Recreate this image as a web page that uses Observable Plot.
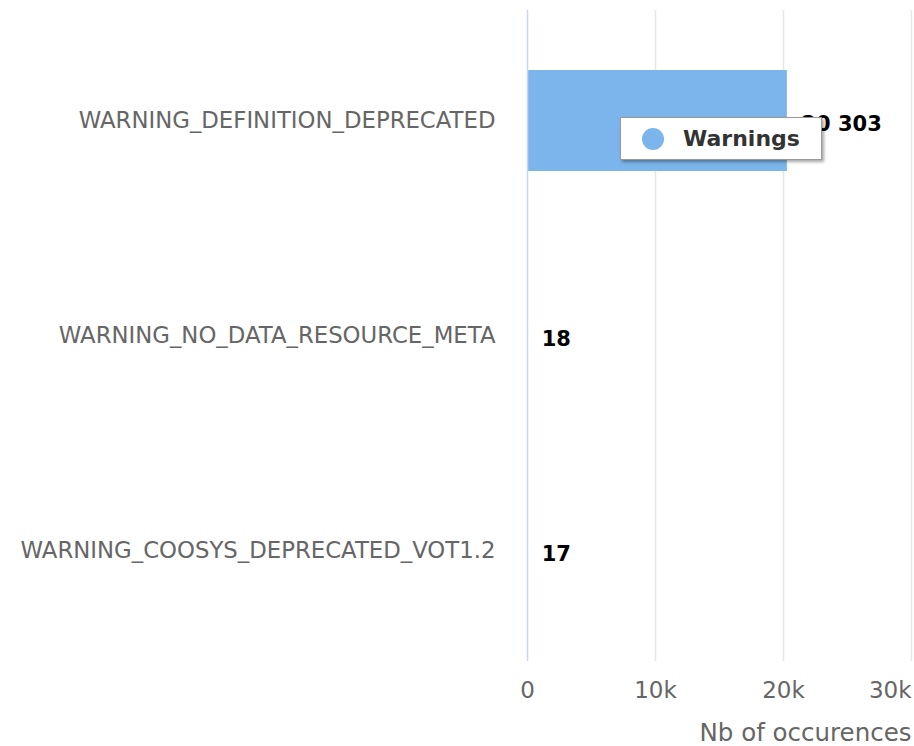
<!DOCTYPE html>
<html>
<head>
<meta charset="utf-8">
<script src="https://cdn.jsdelivr.net/npm/d3@7"></script>
<script src="https://cdn.jsdelivr.net/npm/@observablehq/plot@0.6"></script>
<style>
  html, body { margin: 0; padding: 0; background: #fff; }
  #wrap { position: relative; width: 914px; height: 746px; font-family: "DejaVu Sans", sans-serif; }
  #legend {
    position: absolute; left: 620px; top: 117px; width: 202px; height: 43px;
    background: #fff; border: 1px solid #999; box-sizing: border-box;
    box-shadow: 2px 2px 3px rgba(0,0,0,0.35);
    display: flex; align-items: center;
  }
  #legend .dot { width: 22px; height: 22px; border-radius: 50%; background: #7cb5ec; margin-left: 21px; flex: none; }
  #legend .lbl { margin-left: 19px; font-weight: bold; font-size: 22px; color: #333; white-space: nowrap; }
</style>
</head>
<body>
<div id="wrap"><div id="chart"></div><div id="legend"><div class="dot"></div><div class="lbl">Warnings</div></div></div>
<script>
const categories = ["WARNING_DEFINITION_DEPRECATED", "WARNING_NO_DATA_RESOURCE_META", "WARNING_COOSYS_DEPRECATED_VOT1.2"];
const counts = [20303, 18, 17];
const seriesName = "Warnings";
const xTicks = [0, 10000, 20000, 30000];
const xTickLabels = ["0", "10k", "20k", "30k"];
const xTitle = "Nb of occurences";

const data = categories.map((c, i) => ({category: c, value: counts[i]}));
const tickData = xTicks.map((t, i) => ({t, label: xTickLabels[i]}));
const fmt = v => d3.format(",")(v).replace(/,/g, " ");

const chart = Plot.plot({
  width: 914,
  height: 746,
  marginLeft: 527,
  marginRight: 3,
  marginTop: 13,
  marginBottom: 88,
  style: {fontFamily: "DejaVu Sans, sans-serif", background: "#fff"},
  x: {domain: [0, 30000], axis: null},
  y: {domain: categories, paddingInner: 0.53, paddingOuter: 0.265, axis: null},
  marks: [
    Plot.ruleX(xTicks.filter(t => t > 0), {stroke: "#e6e6e6", strokeWidth: 1.5, insetTop: -3, insetBottom: -3}),
    Plot.barX(data, {y: "category", x: "value", fill: "#7cb5ec"}),
    Plot.ruleX([0], {stroke: "#ccd6eb", strokeWidth: 1.5, insetTop: -3, insetBottom: -3}),
    Plot.axisY({tickSize: 0, tickPadding: 32, fontSize: 22.8, fill: "#666", label: null}),
    Plot.text(data, {y: "category", x: "value", text: d => fmt(d.value), textAnchor: "start", dx: 14, dy: 3,
      fontSize: 21, fontWeight: "bold", fill: "#000", stroke: "#fff", strokeWidth: 1, paintOrder: "stroke"}),
    Plot.text(tickData.filter(d => d.t < 30000), {x: "t", text: "label", frameAnchor: "bottom", dy: 39, fontSize: 23, fill: "#666"}),
    Plot.text(tickData.filter(d => d.t === 30000), {x: "t", text: "label", frameAnchor: "bottom", textAnchor: "end", dy: 39, fontSize: 23, fill: "#666"}),
    Plot.text([xTitle], {frameAnchor: "bottom-right", dy: 82, fontSize: 24.5, fill: "#666"})
  ]
});
document.getElementById("chart").appendChild(chart);
</script>
</body>
</html>
